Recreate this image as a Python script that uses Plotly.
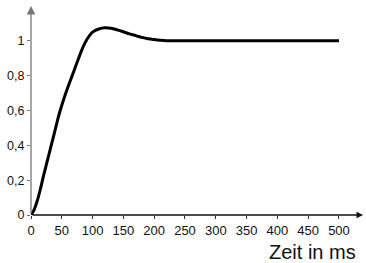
import plotly.graph_objects as go

# Data (step response)
time_ms = [0, 5, 10, 15, 20, 25, 30, 35, 40, 45, 50, 55, 60, 65, 70, 75, 80, 85,
           90, 95, 100, 110, 120, 130, 140, 150, 160, 170, 180, 190, 200, 210,
           220, 240, 300, 400, 500]
response = [0, 0.03, 0.08, 0.145, 0.22, 0.29, 0.36, 0.43, 0.50, 0.57, 0.63, 0.685,
            0.735, 0.782, 0.83, 0.878, 0.925, 0.968, 1.003, 1.03, 1.05, 1.068,
            1.075, 1.072, 1.063, 1.052, 1.04, 1.03, 1.02, 1.012, 1.007, 1.003,
            1.001, 1.0, 1.0, 1.0, 1.0]

x_ticks = [0, 50, 100, 150, 200, 250, 300, 350, 400, 450, 500]
y_ticks = [0, 0.2, 0.4, 0.6, 0.8, 1]
y_tick_labels = ["0", "0,2", "0,4", "0,6", "0,8", "1"]
x_title = "Zeit in ms"

X_MAX = 539
Y_MAX = 1.2

fig = go.Figure()
fig.add_trace(go.Scatter(
    x=time_ms, y=response, mode="lines",
    line=dict(color="black", width=3, shape="spline", smoothing=1.0),
    cliponaxis=False, hoverinfo="skip", showlegend=False,
))

font = "Liberation Sans, Arial, sans-serif"

fig.update_layout(
    width=366, height=263,
    margin=dict(l=31, r=3, t=6, b=48, pad=0),
    paper_bgcolor="white", plot_bgcolor="white",
    showlegend=False,
    font=dict(family=font, color="#111"),
    xaxis=dict(range=[0, X_MAX], tickvals=x_ticks, ticks="outside", ticklen=3,
               tickcolor="#333", tickfont=dict(size=13, family=font, color="#111"),
               showgrid=False, zeroline=False, showline=False, automargin=False),
    yaxis=dict(range=[0, Y_MAX], tickvals=y_ticks, ticktext=y_tick_labels,
               ticks="outside", ticklen=3, tickcolor="#777",
               tickfont=dict(size=12.5, family=font, color="#111"),
               showgrid=False, zeroline=False, showline=False, automargin=False),
    annotations=[
        # y axis with arrow
        dict(x=0, y=Y_MAX, ax=0, ay=0, xref="x", yref="y", axref="x", ayref="y",
             text="", showarrow=True, arrowhead=2, arrowsize=1.3, arrowwidth=1.3,
             arrowcolor="#777"),
        # x axis with arrow
        dict(x=X_MAX, y=0, ax=0, ay=0, xref="x", yref="y", axref="x", ayref="y",
             text="", showarrow=True, arrowhead=2, arrowsize=1.0, arrowwidth=1.3,
             arrowcolor="#111"),
        dict(x=0.985, y=-0.176, xref="paper", yref="paper", xanchor="right",
             yanchor="middle", text=x_title, showarrow=False,
             font=dict(size=20, family=font, color="#111")),
    ],
)

fig.write_html("out.html", config={"displayModeBar": False},
               post_script="document.body.style.margin='0';document.body.style.padding='0';")
